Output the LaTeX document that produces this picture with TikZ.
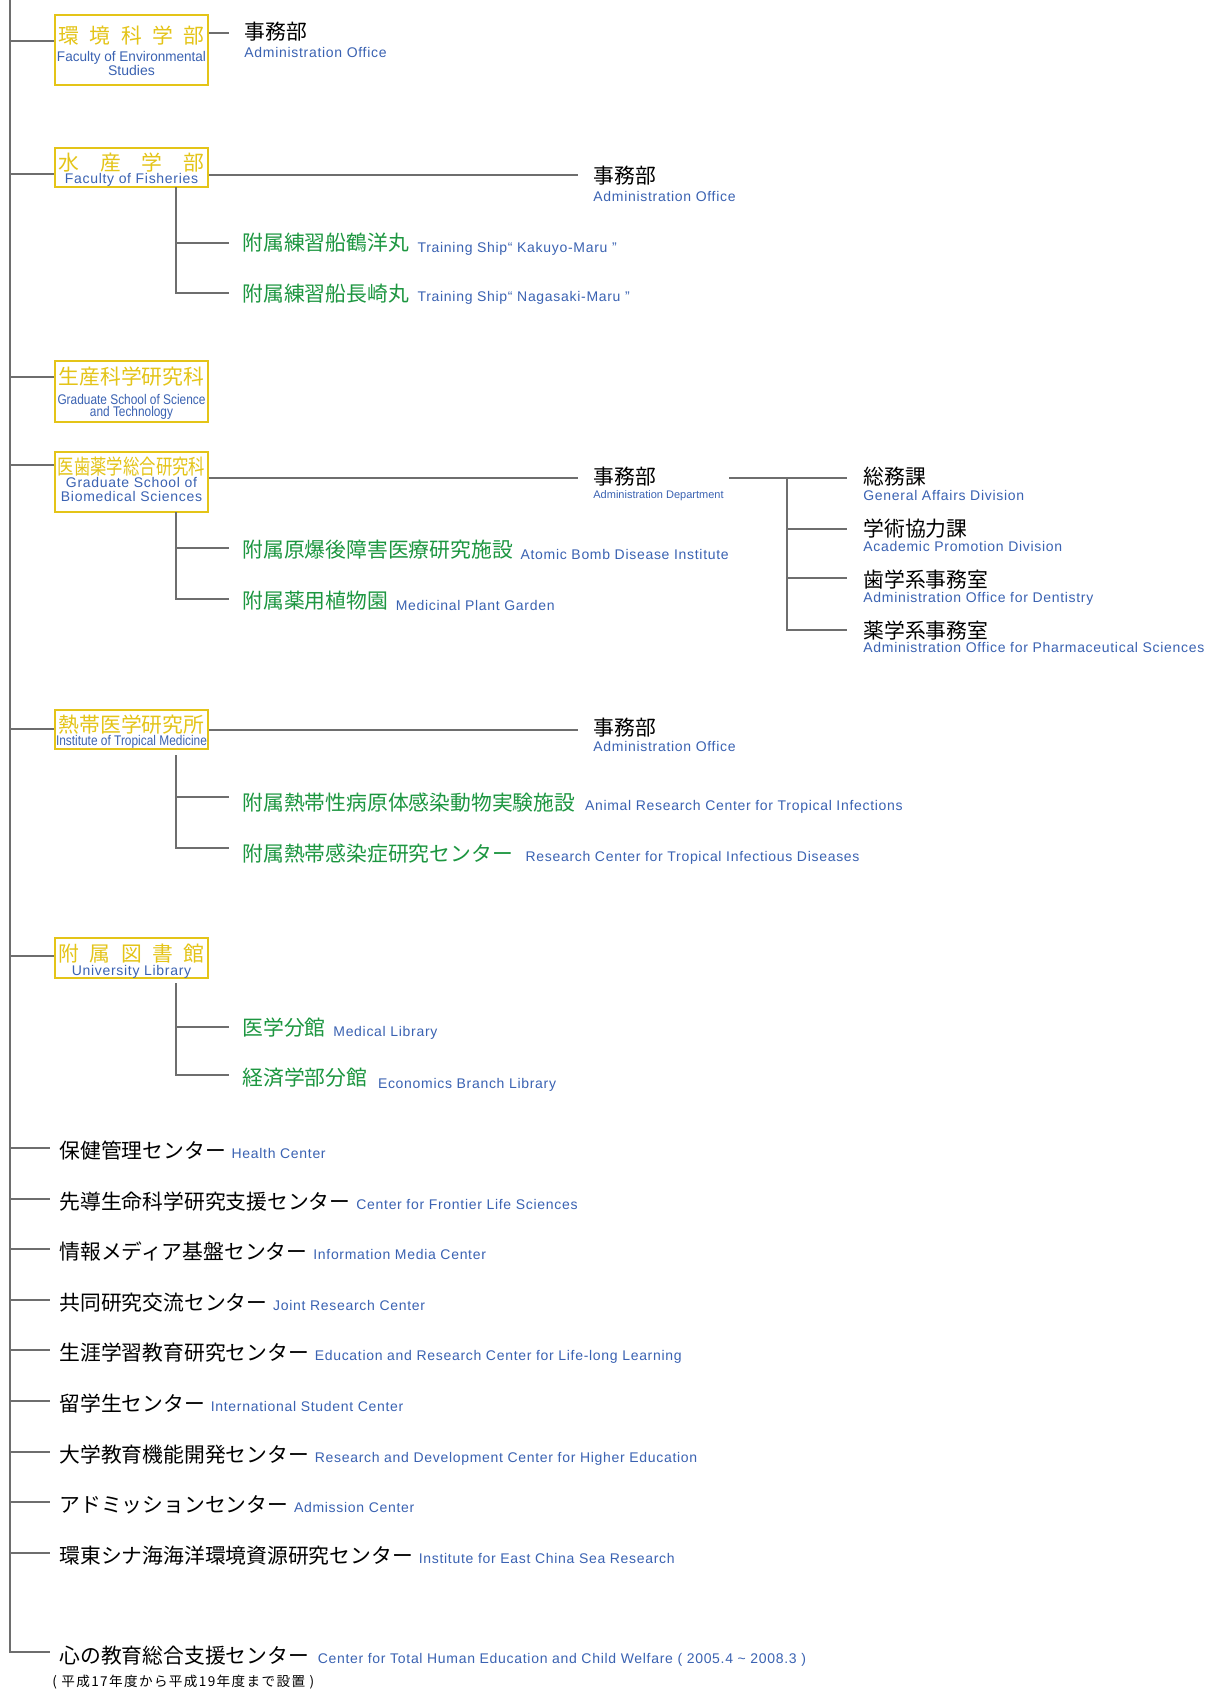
\documentclass[tikz,border=0pt]{standalone}
\usepackage{fontspec}
\usepackage{graphicx}
\newfontfamily\jp{Noto Sans CJK JP}
\newfontfamily\jpsp[LetterSpace=10]{Noto Sans CJK JP}
\newfontfamily\en[LetterSpace=5]{Liberation Sans}
\newfontfamily\enn{Liberation Sans}
\definecolor{lineg}{RGB}{110,110,110}
\definecolor{gold}{RGB}{228,196,24}
\definecolor{jblue}{RGB}{58,98,178}
\definecolor{jgreen}{RGB}{28,150,64}
\newcommand{\jpf}{\jp\fontsize{10.4}{12}\selectfont}
\newcommand{\enf}{\en\fontsize{7}{8}\selectfont}
\tikzset{
  conn/.style={draw=lineg, line width=1pt},
  orgbox/.style={draw=gold, line width=1pt, rectangle, minimum width=76.5pt, inner sep=0pt, fill=white},
  jt/.style={anchor=base west, inner sep=0pt, font=\jpf, text=black},
  gt/.style={jt, text=jgreen},
  et/.style={anchor=base west, inner sep=0pt, font=\enf, text=jblue},
  bj/.style={anchor=base, inner sep=0pt, font=\jpf, text=gold},
  be/.style={anchor=base, inner sep=0pt, font=\enf, text=jblue},
}
\begin{document}
\begin{tikzpicture}[x=0.5pt, y=-0.5pt]
\useasboundingbox[fill=white] (0,0) rectangle (1221,1690);

% ---------- trunk ----------
\coordinate (T0) at (10,0);
\coordinate (TB) at (10,1652);
\coordinate (TBE) at (50,1652);
\draw[conn] (T0) -- (TB) -- (TBE);

% ---------- boxes ----------
\node[orgbox, minimum height=35pt] (b1) at (131.5,50) {};
\node[bj] (b1j) at (131.5,43.6) {\hbox to 73pt{環\hfil 境\hfil 科\hfil 学\hfil 部}};
\node[be] (b1e1) at (131.5,62) {\resizebox{74.5pt}{\height}{\enn Faculty of Environmental}};
\node[be] (b1e2) at (131.5,76) {\enn Studies};

\node[orgbox, minimum height=19.5pt] (b2) at (131.5,167.5) {};
\node[bj] (b2j) at (131.5,171) {\hbox to 73pt{水\hfil 産\hfil 学\hfil 部}};
\node[be] (b2e) at (131.5,184) {Faculty of Fisheries};

\node[orgbox, minimum height=30.5pt] (b3) at (131.5,391.5) {};
\node[bj] (b3j) at (131.5,384) {生産科学研究科};
\node[be] (b3e1) at (131.5,404) {\resizebox{74pt}{\height}{\enn Graduate School of Science}};
\node[be] (b3e2) at (131.5,416) {\resizebox{41.5pt}{\height}{\enn and Technology}};

\node[orgbox, minimum height=30pt] (b4) at (131.5,482) {};
\node[bj] (b4j) at (131.5,474) {\resizebox{73.5pt}{\height}{医歯薬学総合研究科}};
\node[be] (b4e1) at (131.5,487) {Graduate School of};
\node[be] (b4e2) at (131.5,501) {Biomedical Sciences};

\node[orgbox, minimum height=19.5pt] (b5) at (131.5,729.5) {};
\node[bj] (b5j) at (131.5,732.6) {熱帯医学研究所};
\node[be] (b5e) at (131.5,745) {\resizebox{75.5pt}{\height}{\enn Institute of Tropical Medicine}};

\node[orgbox, minimum height=20pt] (b6) at (131.5,958) {};
\node[bj] (b6j) at (131.5,961.6) {\hbox to 73pt{附\hfil 属\hfil 図\hfil 書\hfil 館}};
\node[be] (b6e) at (131.5,975) {University Library};

% trunk -> boxes
\coordinate (t1) at (10,41);
\coordinate (t2) at (10,174);
\coordinate (t3) at (10,377);
\coordinate (t4) at (10,465);
\coordinate (t5) at (10,729);
\coordinate (t6) at (10,956);
\draw[conn] (t1) -- (t1 -| b1.west);
\draw[conn] (t2) -- (t2 -| b2.west);
\draw[conn] (t3) -- (t3 -| b3.west);
\draw[conn] (t4) -- (t4 -| b4.west);
\draw[conn] (t5) -- (t5 -| b5.west);
\draw[conn] (t6) -- (t6 -| b6.west);

% ---------- administration offices ----------
\node[jt] (o1) at (244,40) {事務部};
\node[et] (o1e) at (244,58) {Administration Office};
\coordinate (c1) at (229,33);
\draw[conn] (c1 -| b1.east) -- (c1);

\node[jt] (o2) at (593,183.5) {事務部};
\node[et] (o2e) at (593,202) {Administration Office};
\coordinate (c2) at (578,175);
\draw[conn] (c2 -| b2.east) -- (c2);

\node[jt] (o4) at (593,484) {事務部};
\node[et, font=\enn\fontsize{5.5}{6}\selectfont] (o4e) at (593,498) {Administration Department};
\coordinate (c4) at (578,478);
\draw[conn] (c4 -| b4.east) -- (c4);

\node[jt] (o5) at (593,735) {事務部};
\node[et] (o5e) at (593,751) {Administration Office};
\coordinate (c5) at (578,730);
\draw[conn] (c5 -| b5.east) -- (c5);

% divisions under Administration Department
\coordinate (d4a) at (729,478);
\coordinate (d4v) at (787,478);
\coordinate (d4b) at (847,478);
\coordinate (d4c) at (847,529);
\coordinate (d4d) at (847,578);
\coordinate (d4e) at (847,630);
\draw[conn] (d4a) -- (d4b);
\draw[conn] (d4v) -- (d4v |- d4e) -- (d4e);
\draw[conn] (d4v |- d4c) -- (d4c);
\draw[conn] (d4v |- d4d) -- (d4d);
\node[jt] (v1) at (863,484) {総務課};
\node[et] (v1e) at (863,500) {General Affairs Division};
\node[jt] (v2) at (863,536.6) {学術協力課};
\node[et] (v2e) at (863,551) {Academic Promotion Division};
\node[jt] (v3) at (863,587) {歯学系事務室};
\node[et] (v3e) at (863,602) {Administration Office for Dentistry};
\node[jt] (v4) at (863,638) {薬学系事務室};
\node[et] (v4e) at (863,652) {Administration Office for Pharmaceutical Sciences};

% ---------- attached facilities ----------
% Fisheries
\coordinate (s2a) at (176,187);
\coordinate (g21l) at (229,243);
\coordinate (g22l) at (229,293);
\draw[conn] (s2a) -- (s2a |- g22l) -- (g22l);
\draw[conn] (s2a |- g21l) -- (g21l);
\node[gt] (g21) at (242,251) {附属練習船鶴洋丸};
\node[et] (g21e) at ([xshift=4pt,yshift=-1pt]g21.base east) {Training Ship“ Kakuyo-Maru ”};
\node[gt] (g22) at (242,302) {附属練習船長崎丸};
\node[et] (g22e) at ([xshift=4pt]g22.base east) {Training Ship“ Nagasaki-Maru ”};

% Biomedical
\coordinate (s4a) at (176,512);
\coordinate (g41l) at (229,548);
\coordinate (g42l) at (229,599);
\draw[conn] (s4a) -- (s4a |- g42l) -- (g42l);
\draw[conn] (s4a |- g41l) -- (g41l);
\node[gt] (g41) at (242,557) {附属原爆後障害医療研究施設};
\node[et] (g41e) at ([xshift=3.5pt,yshift=-1pt]g41.base east) {Atomic Bomb Disease Institute};
\node[gt] (g42) at (242,608) {附属薬用植物園};
\node[et] (g42e) at ([xshift=3.5pt,yshift=-1pt]g42.base east) {Medicinal Plant Garden};

% Tropical Medicine
\coordinate (s5a) at (176,755);
\coordinate (g51l) at (229,797);
\coordinate (g52l) at (229,848);
\draw[conn] (s5a) -- (s5a |- g52l) -- (g52l);
\draw[conn] (s5a |- g51l) -- (g51l);
\node[gt] (g51) at (242,810) {附属熱帯性病原体感染動物実験施設};
\node[et] (g51e) at ([xshift=4.5pt]g51.base east) {Animal Research Center for Tropical Infections};
\node[gt] (g52) at (242,861) {附属熱帯感染症研究センター};
\node[et] (g52e) at ([xshift=6pt]g52.base east) {Research Center for Tropical Infectious Diseases};

% Library
\coordinate (s6a) at (176,983);
\coordinate (g61l) at (229,1027);
\coordinate (g62l) at (229,1075);
\draw[conn] (s6a) -- (s6a |- g62l) -- (g62l);
\draw[conn] (s6a |- g61l) -- (g61l);
\node[gt] (g61) at (242,1035) {医学分館};
\node[et] (g61e) at ([xshift=3.5pt,yshift=-0.5pt]g61.base east) {Medical Library};
\node[gt] (g62) at (242,1085) {経済学部分館};
\node[et] (g62e) at ([xshift=5pt,yshift=-1.5pt]g62.base east) {Economics Branch Library};

% ---------- centres ----------
\foreach \i/\jj/\ee in {
  1/保健管理センター/Health Center,
  2/先導生命科学研究支援センター/Center for Frontier Life Sciences,
  3/情報メディア基盤センター/Information Media Center,
  4/共同研究交流センター/Joint Research Center,
  5/生涯学習教育研究センター/Education and Research Center for Life-long Learning,
  6/留学生センター/International Student Center,
  7/大学教育機能開発センター/Research and Development Center for Higher Education,
  8/アドミッションセンター/Admission Center,
  9/環東シナ海海洋環境資源研究センター/Institute for East China Sea Research}{
  \pgfmathsetmacro\yy{1148+50.6*(\i-1)}
  \coordinate (R\i) at (10,\yy);
  \coordinate (RE\i) at (50,\yy);
  \draw[conn] (R\i) -- (RE\i);
  \node[jt] (L\i) at (59,\yy+10.5) {\jj};
  \node[et] (E\i) at ([xshift=2.5pt]L\i.base east) {\ee};
}

\node[jt] (LB) at (59,1663) {心の教育総合支援センター};
\node[et] (EB) at ([xshift=4pt]LB.base east) {Center for Total Human Education and Child Welfare ( 2005.4 \textasciitilde{} 2008.3 )};
\node[anchor=base west, inner sep=0pt, font=\jpsp\fontsize{6.8}{7}\selectfont] (LN) at (52,1686) {( 平成17年度から平成19年度まで設置 )};
\end{tikzpicture}
\end{document}
